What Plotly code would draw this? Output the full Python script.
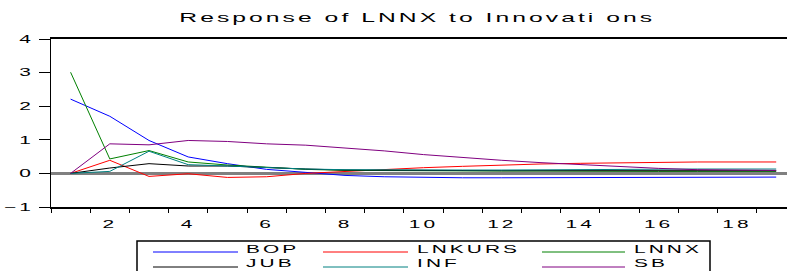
import plotly.graph_objects as go

periods = list(range(1, 20))
BOP = [2.21, 1.70, 0.98, 0.49, 0.29, 0.12, 0.03, -0.06, -0.10, -0.12, -0.13, -0.13, -0.13, -0.12, -0.12, -0.12, -0.11, -0.11, -0.11]
LNKURS = [0.0, 0.39, -0.09, -0.01, -0.12, -0.10, 0.0, 0.06, 0.12, 0.17, 0.21, 0.25, 0.28, 0.30, 0.32, 0.33, 0.34, 0.34, 0.34]
LNNX = [3.01, 0.43, 0.68, 0.34, 0.25, 0.18, 0.12, 0.09, 0.08, 0.07, 0.07, 0.07, 0.07, 0.06, 0.06, 0.06, 0.06, 0.06, 0.06]
JUB = [0.0, 0.16, 0.29, 0.22, 0.22, 0.17, 0.13, 0.10, 0.09, 0.08, 0.08, 0.08, 0.08, 0.08, 0.08, 0.08, 0.08, 0.08, 0.08]
INF = [0.0, 0.06, 0.66, 0.26, 0.22, 0.17, 0.13, 0.11, 0.10, 0.10, 0.10, 0.10, 0.11, 0.11, 0.12, 0.12, 0.13, 0.13, 0.13]
SB = [0.0, 0.88, 0.85, 0.98, 0.95, 0.88, 0.84, 0.76, 0.67, 0.56, 0.47, 0.39, 0.32, 0.26, 0.20, 0.15, 0.11, 0.09, 0.09]

series_names = ["BOP", "LNKURS", "LNNX", "JUB", "INF", "SB"]
series_vals = [BOP, LNKURS, LNNX, JUB, INF, SB]
colors = ["#0000FF", "#FF0000", "#008000", "#000000", "#008080", "#800080"]

x_tickvals = [2, 4, 6, 8, 10, 12, 14, 16, 18]
y_tickvals = [-1, 0, 1, 2, 3, 4]

W, H = 787, 271
L, R, T, B = 51, 0, 39, 64
PW, PH = W - L - R, H - T - B
FONT = "Liberation Sans, Arial, sans-serif"

def px(xpix):
    return (xpix - L) / PW

def py(ypix):
    return (H - B - ypix) / PH

fig = go.Figure()
for name, vals, col in zip(series_names, series_vals, colors):
    fig.add_trace(go.Scatter(x=periods, y=vals, mode="lines", name=name,
                             line=dict(color=col, width=1), showlegend=False))

shapes = []
annotations = []
# legend box
shapes.append(dict(type="rect", xref="paper", yref="paper",
                   x0=px(137), x1=px(710), y0=py(280), y1=py(241),
                   line=dict(color="black", width=1.5), fillcolor="white", layer="above"))
leg_cols = [(153, 238, 245), (323, 408, 416), (542, 625, 633)]
leg_rows = [(252, 248.5), (267, 263)]
for i, (name, col) in enumerate(zip(series_names, colors)):
    r, c = divmod(i, 3)
    lx0, lx1, tx = leg_cols[c]
    ly, ty = leg_rows[r]
    shapes.append(dict(type="line", xref="paper", yref="paper",
                       x0=px(lx0), x1=px(lx1), y0=py(ly), y1=py(ly),
                       line=dict(color=col, width=1), layer="above"))
    annotations.append(dict(xref="paper", yref="paper", x=px(tx), y=py(ty),
                            xanchor="left", yanchor="middle", text=name, showarrow=False,
                            borderpad=0, font=dict(family=FONT, size=11, color="black")))

fig.update_layout(
    width=W, height=H,
    margin=dict(l=L, r=R, t=T, b=B, autoexpand=False),
    paper_bgcolor="white", plot_bgcolor="white",
    title=dict(text="Response of LNNX to Innovati ons", x=px(417), xref="paper",
               xanchor="center", y=1 - 17 / H, yref="container", yanchor="middle",
               font=dict(family=FONT, size=13, color="black")),
    xaxis=dict(range=[0.5, 0.5 + PW / 39.2], showgrid=False, zeroline=False,
               showline=True, linecolor="black", linewidth=1.5, mirror=True,
               tickmode="array", tickvals=x_tickvals, ticktext=[str(v) for v in x_tickvals],
               ticks="outside", ticklen=4, tickcolor="rgba(0,0,0,0)",
               ticklabelstandoff=2,
               minor=dict(tickmode="linear", tick0=0.5, dtick=1, ticks="outside",
                          ticklen=4, tickcolor="black", tickwidth=1, showgrid=False),
               tickfont=dict(family=FONT, size=11, color="black")),
    yaxis=dict(range=[-1, 4], showgrid=False, zeroline=True, zerolinecolor="#808080",
               zerolinewidth=2.5, showline=True, linecolor="black", linewidth=1,
               mirror=False, tickmode="array", tickvals=y_tickvals,
               ticks="outside", ticklen=11, tickcolor="black", tickwidth=1,
               ticklabelstandoff=6,
               tickfont=dict(family=FONT, size=11, color="black")),
    shapes=shapes, annotations=annotations,
)

post = """
(function(){
  document.body.style.margin = '0';
  document.body.style.padding = '0';
  var s = 1.9, ls = 1.6;
  var texts = document.querySelectorAll('.main-svg text');
  texts.forEach(function(t){
    var mode = 'c';
    if (t.closest('.annotation')) mode = 'l';
    else if (t.closest('.ytick')) mode = 'r';
    var g = document.createElementNS('http://www.w3.org/2000/svg', 'g');
    t.parentNode.insertBefore(g, t);
    g.appendChild(t);
    var b0 = g.getBBox();
    t.style.letterSpacing = ls + 'px';
    var b1 = g.getBBox();
    var x0 = mode == 'l' ? b0.x : (mode == 'r' ? b0.x + b0.width : b0.x + b0.width / 2);
    var x1 = mode == 'l' ? b1.x : (mode == 'r' ? b1.x + b1.width - ls : b1.x + b1.width / 2);
    g.setAttribute('transform', 'translate(' + (x0 - s * x1) + ',0) scale(' + s + ',1)');
  });
})();
"""

fig.write_html("out.html", post_script=post, config={"displayModeBar": False})
